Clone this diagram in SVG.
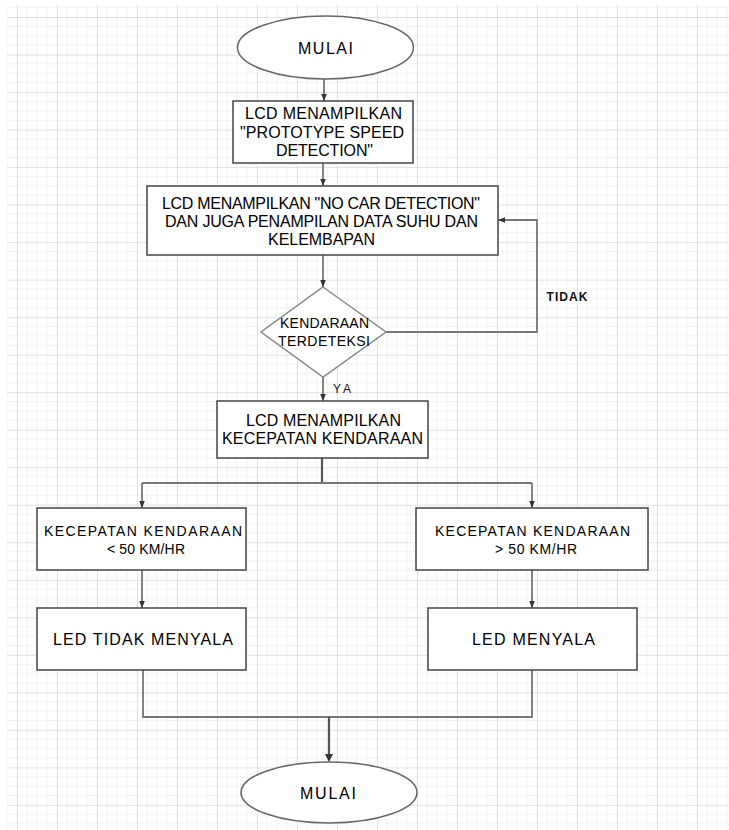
<svg xmlns="http://www.w3.org/2000/svg" width="729" height="830" viewBox="0 0 729 830">
<style>
.node{fill:#fff;stroke:#444;stroke-width:1.5}
.dia{fill:#fff;stroke:#888;stroke-width:1.5}
.t{font-family:"Liberation Sans",Arial,sans-serif;font-size:16px;fill:#000;text-anchor:middle;dominant-baseline:central}
.s{font-size:14px}
.lbl{font-family:"Liberation Sans",Arial,sans-serif;font-size:12px;font-weight:bold;fill:#111;text-anchor:middle;dominant-baseline:central}
.c{fill:none;stroke:#777;stroke-width:1.8}
.ca{fill:none;stroke:#777;stroke-width:1.8;marker-end:url(#ah)}
.cd{fill:none;stroke:#555;stroke-width:2.2}
</style>
<defs>
<pattern id="grid" patternUnits="userSpaceOnUse" x="17" y="17" width="40" height="37.52">
<path d="M10 0V37.52M20 0V37.52M30 0V37.52M0 9.38H40M0 18.76H40M0 28.14H40" stroke="#f2f2f2" stroke-width="1"/>
<path d="M0 0V37.52M0 0H40" stroke="#e2e2e2" stroke-width="2"/>
</pattern>
<marker id="ah" viewBox="0 0 10 10" refX="10" refY="5" markerWidth="7" markerHeight="7" markerUnits="userSpaceOnUse" orient="auto">
<path d="M0 1L10 5L0 9Z" fill="#333"/>
</marker>
</defs>
<rect x="0" y="0" width="729" height="830" fill="#fff"/>
<rect x="7" y="4" width="722" height="826" fill="url(#grid)"/>

<g id="connectors">
<path class="ca" d="M324 79V101"/>
<path class="ca" d="M323 163V186"/>
<path class="ca" d="M323 255V287"/>
<path class="ca" d="M386 332H537V220H498"/>
<path class="ca" d="M323 377V401"/>
<path class="cd" d="M322 458V483"/>
<path class="c" d="M142 483H532"/>
<path class="ca" d="M142 483V508"/>
<path class="ca" d="M532 483V508"/>
<path class="ca" d="M142 570V608"/>
<path class="ca" d="M532 570V608"/>
<path class="c" d="M143 670V717H532V670"/>
<path class="cd" d="M329 717V758"/>
<path d="M325 754L329 762L333 754Z" fill="#333"/>
<text class="lbl" x="567" y="297" textLength="41">TIDAK</text>
<text class="lbl" x="342" y="389" textLength="18" style="font-weight:normal">YA</text>
</g>

<g id="start">
<ellipse class="node" cx="325.5" cy="47.5" rx="88" ry="31.5" style="stroke:#666"/>
<text class="t" x="325.5" y="48" textLength="55">MULAI</text>
</g>

<g id="lcd-prototype">
<rect class="node" x="233" y="101" width="180" height="62"/>
<text class="t" x="323.5" y="113" textLength="157">LCD MENAMPILKAN</text>
<text class="t" x="322" y="132" textLength="164">"PROTOTYPE SPEED</text>
<text class="t" x="324.5" y="150" textLength="97">DETECTION"</text>
</g>

<g id="lcd-nocar">
<rect class="node" x="147" y="186" width="351" height="69"/>
<text class="t" x="321" y="203" textLength="318">LCD MENAMPILKAN "NO CAR DETECTION"</text>
<text class="t" x="321.5" y="221" textLength="313">DAN JUGA PENAMPILAN DATA SUHU DAN</text>
<text class="t" x="321.5" y="239" textLength="107">KELEMBAPAN</text>
</g>

<g id="decision">
<polygon class="dia" points="323,287 386,332 323,377 261,332"/>
<text class="t s" x="324.5" y="323" textLength="89">KENDARAAN</text>
<text class="t s" x="324" y="341" textLength="92">TERDETEKSI</text>
</g>

<g id="lcd-speed">
<rect class="node" x="217" y="401" width="211" height="57"/>
<text class="t" x="323.5" y="420" textLength="155">LCD MENAMPILKAN</text>
<text class="t" x="322.5" y="438" textLength="201">KECEPATAN KENDARAAN</text>
</g>

<g id="speed-low">
<rect class="node" x="37" y="508" width="209" height="62"/>
<text class="t s" x="143" y="531" textLength="198">KECEPATAN KENDARAAN</text>
<text class="t s" x="146" y="549" textLength="78">&lt; 50 KM/HR</text>
</g>

<g id="speed-high">
<rect class="node" x="416" y="508" width="232" height="62"/>
<text class="t s" x="532.5" y="531" textLength="195">KECEPATAN KENDARAAN</text>
<text class="t s" x="536" y="549" textLength="82">&gt; 50 KM/HR</text>
</g>

<g id="led-off">
<rect class="node" x="37" y="608" width="209" height="62"/>
<text class="t" x="143" y="639" textLength="180">LED TIDAK MENYALA</text>
</g>

<g id="led-on">
<rect class="node" x="428" y="608" width="209" height="62"/>
<text class="t" x="533.5" y="639" textLength="123">LED MENYALA</text>
</g>

<g id="end">
<ellipse class="node" cx="329" cy="792.5" rx="88" ry="30.5" style="stroke:#666"/>
<text class="t" x="328" y="793" textLength="56">MULAI</text>
</g>
</svg>
